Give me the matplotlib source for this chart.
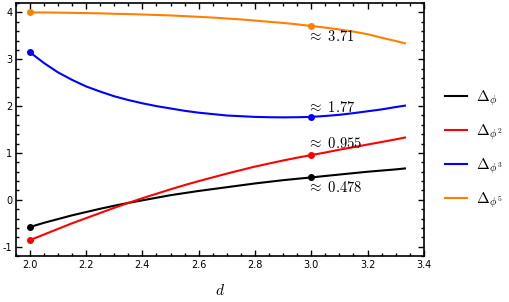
import numpy as np
import matplotlib
matplotlib.use("Agg")
import matplotlib.pyplot as plt
from matplotlib.ticker import MultipleLocator

plt.rcParams['mathtext.fontset'] = 'cm'
plt.rcParams['axes.unicode_minus'] = False

# values
d = [2.0, 2.05, 2.1, 2.15, 2.2, 2.25, 2.3, 2.35, 2.4, 2.45, 2.5, 2.55, 2.6, 2.65,
     2.7, 2.75, 2.8, 2.85, 2.9, 2.95, 3.0, 3.05, 3.1, 3.15, 3.2, 3.25, 3.3, 3.333]
delta_phi = [-0.58, -0.49, -0.41, -0.33, -0.26, -0.19, -0.125, -0.065, -0.01, 0.045,
             0.10, 0.145, 0.19, 0.23, 0.27, 0.31, 0.35, 0.385, 0.42, 0.45,
             0.478, 0.51, 0.54, 0.57, 0.60, 0.625, 0.65, 0.67]
delta_phi2 = [-0.86, -0.74, -0.62, -0.50, -0.39, -0.28, -0.17, -0.065, 0.035, 0.13,
              0.225, 0.315, 0.40, 0.48, 0.56, 0.635, 0.71, 0.775, 0.84, 0.90,
              0.955, 1.01, 1.07, 1.125, 1.18, 1.235, 1.29, 1.33]
delta_phi3 = [3.15, 2.92, 2.72, 2.56, 2.42, 2.31, 2.21, 2.13, 2.06, 2.00,
              1.95, 1.90, 1.86, 1.83, 1.80, 1.785, 1.77, 1.763, 1.76, 1.763,
              1.77, 1.79, 1.815, 1.85, 1.89, 1.93, 1.98, 2.01]
delta_phi5 = [4.0, 3.998, 3.995, 3.99, 3.985, 3.98, 3.97, 3.965, 3.955, 3.945,
              3.935, 3.92, 3.905, 3.89, 3.87, 3.85, 3.825, 3.80, 3.775, 3.745,
              3.71, 3.675, 3.635, 3.59, 3.535, 3.46, 3.39, 3.34]

series = [delta_phi, delta_phi2, delta_phi3, delta_phi5]
labels = [r'$\Delta_{\phi}$', r'$\Delta_{\phi^2}$', r'$\Delta_{\phi^3}$', r'$\Delta_{\phi^5}$']
colors = ['black', '#ff0000', '#0000ff', '#ff8000']
notes = [r'$\approx\ 0.478$', r'$\approx\ 0.955$', r'$\approx\ 1.77$', r'$\approx\ 3.71$']
note_y = [0.26, 1.21, 1.98, 3.48]

fig = plt.figure(figsize=(5.1, 3.02), dpi=100)
ax = fig.add_axes([0.031, 0.152, 0.80, 0.838])

i3 = d.index(3.0)
for ys, lab, c in zip(series, labels, colors):
    ax.plot(d, ys, color=c, lw=1.5, label=lab)
    ax.plot([d[0], d[i3]], [ys[0], ys[i3]], 'o', color=c, ms=4)

for txt, yy in zip(notes, note_y):
    ax.text(2.985, yy, txt, fontsize=10.5, va='center', ha='left')

ax.set_xlim(1.95, 3.4)
ax.set_ylim(-1.2, 4.2)
ax.xaxis.set_major_locator(MultipleLocator(0.2))
ax.xaxis.set_minor_locator(MultipleLocator(0.05))
ax.yaxis.set_major_locator(MultipleLocator(1))
ax.yaxis.set_minor_locator(MultipleLocator(0.2))
ax.tick_params(which='both', direction='in', top=True, right=True, labelsize=7, width=1, pad=2.5)
ax.tick_params(which='major', length=4)
ax.tick_params(which='minor', length=2)
for s in ax.spines.values():
    s.set_linewidth(1.2)
ax.set_xlabel(r'$d$', fontsize=11, labelpad=10)

fig.legend(loc='center left', bbox_to_anchor=(0.872, 0.505), frameon=False,
           fontsize=11, handlelength=1.45, handletextpad=0.6, labelspacing=0.95,
           borderpad=0, borderaxespad=0)

fig.savefig('out.png', dpi=100)
